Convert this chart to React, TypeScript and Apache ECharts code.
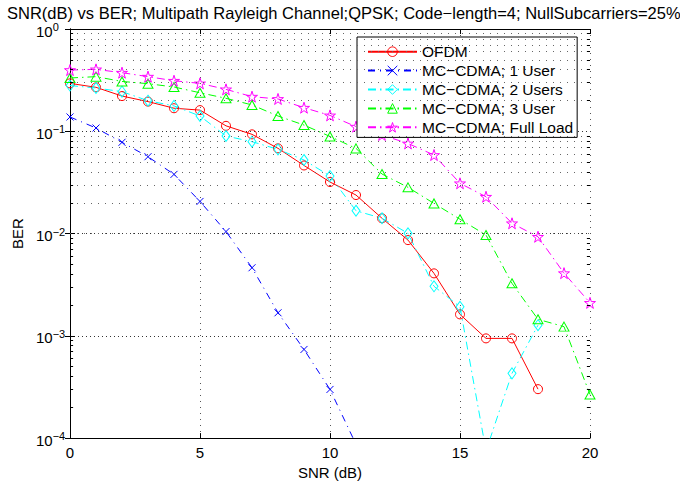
import { useEffect, useRef } from 'react';
import * as echarts from 'echarts';

const snr = [0, 1, 2, 3, 4, 5, 6, 7, 8, 9, 10, 11, 12, 13, 14, 15, 16, 17, 18, 19, 20];
const seriesNames = ['OFDM', 'MC\u2212CDMA; 1 User', 'MC\u2212CDMA; 2 Users', 'MC\u2212CDMA; 3 User', 'MC\u2212CDMA; Full Load'];
const seriesColors = ['#ff0000', '#0000ff', '#00ffff', '#00ff00', '#ff00ff'];
const ofdm = [0.294, 0.269, 0.221, 0.195, 0.168, 0.161, 0.113, 0.0933, 0.0681, 0.0463, 0.0319, 0.0238, 0.0141, 0.00863, 0.00408, 0.00162, 0.000944, 0.000944, 0.000301, null, null];
const user1 = [0.138, 0.1076, 0.078, 0.0564, 0.0379, 0.0206, 0.01046, 0.00463, 0.00168, 0.000736, 0.000299, 0.000087, null, null, null, null, null, null, null, null, null];
const user2 = [0.28, 0.265, 0.244, 0.199, 0.177, 0.141, 0.0899, 0.0791, 0.0666, 0.0524, 0.0365, 0.0167, 0.0141, 0.01005, 0.00305, 0.00192, 0.000075, 0.00043, 0.00127, null, null];
const user3 = [0.332, 0.342, 0.307, 0.292, 0.271, 0.238, 0.21, 0.181, 0.141, 0.115, 0.089, 0.068, 0.0382, 0.0283, 0.0197, 0.0138, 0.00967, 0.00326, 0.00145, 0.00123, 0.000267];
const fullLoad = [0.397, 0.403, 0.374, 0.342, 0.312, 0.294, 0.257, 0.218, 0.207, 0.17, 0.143, 0.111, 0.092, 0.076, 0.0586, 0.031, 0.0229, 0.0126, 0.0093, 0.0041, 0.0021];
const decadeExponents = [-4, -3, -2, -1];
const minorMultipliers = [2, 3, 4, 5, 6, 7, 8, 9];
const titleText = 'SNR(dB) vs BER; Multipath Rayleigh Channel;QPSK; Code\u2212length=4; NullSubcarriers=25%';

const FONT = '"Liberation Sans", Arial, Helvetica, sans-serif';
const STAR = 'path://M50,0 L61.2,34.5 L97.6,34.5 L68.2,55.9 L79.4,90.5 L50,69.1 L20.6,90.5 L31.8,55.9 L2.4,34.5 L38.8,34.5 Z';
const XMARK = 'path://M0,0 L10,10 M10,0 L0,10';

export default function App() {
  const ref = useRef<HTMLDivElement>(null);
  useEffect(() => {
    document.body.style.margin = '0';
    const chart = echarts.init(ref.current as HTMLDivElement, null, { renderer: 'svg' });

    const minorVals: number[] = [];
    decadeExponents.forEach((e) => {
      minorMultipliers.forEach((m) => {
        minorVals.push(Number((m * Math.pow(10, e)).toPrecision(3)));
      });
    });
    const tickLen = 0.12;
    const minorTicks: any[] = [];
    minorVals.forEach((v) => {
      minorTicks.push([{ coord: [0, v] }, { coord: [tickLen, v] }]);
      minorTicks.push([{ coord: [20 - tickLen, v] }, { coord: [20, v] }]);
    });

    const pairs = (arr: (number | null)[]) => snr.map((x, i) => [x, arr[i]]);

    const mk = (name: string, arr: (number | null)[], color: string, symbol: string, size: any, dash: any) => ({
      name,
      type: 'line',
      data: pairs(arr),
      symbol,
      symbolSize: size,
      z: 3,
      lineStyle: { color, width: 1, type: dash },
      itemStyle: { color: 'rgba(255,255,255,0)', borderColor: color, borderWidth: 1 },
      emphasis: { disabled: true },
    });

    const dashDot = [8, 4, 1.5, 4];
    const option: any = {
      animation: false,
      backgroundColor: '#fff',
      title: {
        text: titleText,
        left: 7,
        top: 5,
        padding: 0,
        textStyle: { fontFamily: FONT, fontSize: 16.5, fontWeight: 'normal', color: '#000', lineHeight: 15 },
      },
      legend: {
        data: seriesNames.map((n, i) => ({
          name: n,
          itemStyle: { color: 'rgba(255,255,255,0)', borderColor: seriesColors[i], borderWidth: 1 },
        })),
        orient: 'vertical',
        left: 357,
        top: 37,
        itemWidth: 49,
        itemHeight: 12,
        itemGap: 2.9,
        padding: [6.7, 4, 2.1, 10],
        backgroundColor: '#fff',
        borderColor: '#000',
        borderWidth: 1,
        borderRadius: 0,
        selectedMode: false,
        textStyle: { fontFamily: FONT, fontSize: 15.5, color: '#000', lineHeight: 12 },
      },
      grid: { left: 70, top: 29, width: 520, height: 409.5, containLabel: false },
      xAxis: [
        {
          type: 'value',
          min: 0,
          max: 20,
          interval: 5,
          position: 'bottom',
          name: 'SNR (dB)',
          nameLocation: 'middle',
          nameGap: 26,
          nameTextStyle: { fontFamily: FONT, fontSize: 15, color: '#000' },
          axisLine: { show: true, lineStyle: { color: '#000', width: 1 } },
          axisTick: { show: true, inside: true, length: 5, lineStyle: { color: '#000' } },
          axisLabel: { fontFamily: FONT, fontSize: 15, color: '#000', margin: 7, lineHeight: 15 },
          splitLine: { show: true, lineStyle: { color: '#555', width: 1, type: [1, 5] } },
        },
        {
          type: 'value',
          min: 0,
          max: 20,
          interval: 5,
          position: 'top',
          axisLine: { show: true, lineStyle: { color: '#000', width: 1 } },
          axisTick: { show: true, inside: true, length: 5, lineStyle: { color: '#000' } },
          axisLabel: { show: false },
          splitLine: { show: false },
        },
      ],
      yAxis: [
        {
          type: 'log',
          logBase: 10,
          min: 0.0001,
          max: 1,
          position: 'left',
          name: 'BER',
          nameLocation: 'middle',
          nameGap: 43,
          nameTextStyle: { fontFamily: FONT, fontSize: 15, color: '#000' },
          axisLine: { show: true, lineStyle: { color: '#000', width: 1 } },
          axisTick: { show: true, inside: true, length: 5, lineStyle: { color: '#000' } },
          axisLabel: {
            margin: 34,
            align: 'left',
            color: '#000',
            fontFamily: FONT,
            formatter: (v: number) => {
              const e = Math.round(Math.log10(v));
              const s = e < 0 ? '\u2212' + Math.abs(e) : String(e);
              return '{b|10}{s|' + s + '}';
            },
            rich: {
              b: { fontFamily: FONT, fontSize: 15, lineHeight: 15, color: '#000', padding: [4, 0, 0, 0] },
              s: { fontFamily: FONT, fontSize: 11, lineHeight: 11, color: '#000', verticalAlign: 'top' },
            },
          },
          splitLine: { show: true, lineStyle: { color: '#333', width: 1, type: [1, 3] } },
        },
        {
          type: 'log',
          logBase: 10,
          min: 0.0001,
          max: 1,
          position: 'right',
          axisLine: { show: true, lineStyle: { color: '#000', width: 1 } },
          axisTick: { show: true, inside: true, length: 5, lineStyle: { color: '#000' } },
          axisLabel: { show: false },
          splitLine: { show: false },
        },
      ],
      series: [
        {
          name: 'gridHelper',
          type: 'line',
          data: [],
          z: 1,
          silent: true,
          markLine: {
            silent: true,
            symbol: ['none', 'none'],
            label: { show: false },
            animation: false,
            lineStyle: { color: '#666', width: 1, type: [1, 6] },
            emphasis: { disabled: true },
            data: minorVals.map((v) => ({ yAxis: v })),
          },
        },
        {
          name: 'tickHelper',
          type: 'line',
          data: [],
          z: 1,
          silent: true,
          markLine: {
            silent: true,
            symbol: ['none', 'none'],
            label: { show: false },
            animation: false,
            lineStyle: { color: '#000', width: 1, type: 'solid' },
            emphasis: { disabled: true },
            data: minorTicks,
          },
        },
        mk(seriesNames[0], ofdm, seriesColors[0], 'circle', 9, 'solid'),
        mk(seriesNames[1], user1, seriesColors[1], XMARK, 7, [7, 5, 1, 5]),
        mk(seriesNames[2], user2, seriesColors[2], 'diamond', [8, 11], dashDot),
        mk(seriesNames[3], user3, seriesColors[3], 'triangle', [10, 9], dashDot),
        mk(seriesNames[4], fullLoad, seriesColors[4], STAR, 11, dashDot),
      ],
    };
    chart.setOption(option);
    return () => chart.dispose();
  }, []);
  return <div ref={ref} style={{ width: 680, height: 485 }} />;
}
